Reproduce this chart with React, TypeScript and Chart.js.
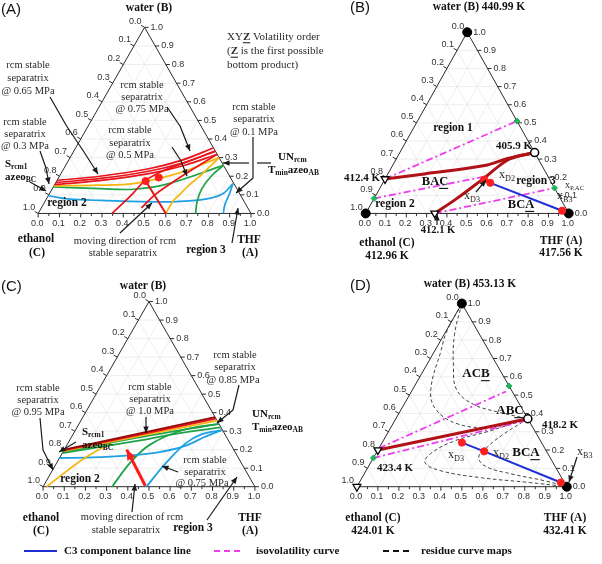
import React, { useEffect, useRef } from 'react';
import { Chart, registerables } from 'chart.js';

Chart.register(...registerables);

// ternary point: [THF (A) fraction, water (B) fraction]
type TP = [number, number];

const TICKS = [0, 0.1, 0.2, 0.3, 0.4, 0.5, 0.6, 0.7, 0.8, 0.9, 1.0];
const TICK_LABELS = ['0.0', '0.1', '0.2', '0.3', '0.4', '0.5', '0.6', '0.7', '0.8', '0.9', '1.0'];
const MINOR_TICKS = [0.05, 0.15, 0.25, 0.35, 0.45, 0.55, 0.65, 0.75, 0.85, 0.95];

// ---------- Panel (A) ----------
const A_RED_1: TP[] = [[0, 0.178], [0.19, 0.2], [0.4, 0.24], [0.53, 0.285], [0.648, 0.352]];
const A_RED_2: TP[] = [[0, 0.166], [0.2, 0.188], [0.41, 0.228], [0.545, 0.272], [0.665, 0.335]];
const A_RED_3: TP[] = [[0, 0.155], [0.2, 0.176], [0.42, 0.215], [0.56, 0.259], [0.682, 0.318]];
const A_YEL_1: TP[] = [[0, 0.148], [0.2, 0.152], [0.367, 0.16], [0.565, 0.222], [0.7, 0.3]];
const A_YEL_2: TP[] = [[0.6, 0], [0.6, 0.063], [0.613, 0.098], [0.632, 0.151], [0.657, 0.195], [0.7, 0.3]];
const A_GRN_1: TP[] = [[0, 0.142], [0.227, 0.133], [0.383, 0.13], [0.522, 0.156], [0.742, 0.258]];
const A_GRN_2: TP[] = [[0.74, 0], [0.715, 0.063], [0.703, 0.133], [0.714, 0.204], [0.742, 0.258]];
const A_BLU_1: TP[] = [[0, 0.095], [0.1, 0.078], [0.257, 0.07], [0.568, 0.062], [0.718, 0.072], [0.774, 0.084], [0.816, 0.107], [0.835, 0.16]];
const A_BLU_2: TP[] = [[0.87, 0], [0.854, 0.046], [0.846, 0.107], [0.835, 0.16]];
const A_RED_S1: TP[] = [[0.347, 0], [0.389, 0.1], [0.414, 0.174], [0.477, 0.232], [0.562, 0.277], [0.665, 0.335]];
const A_RED_S2: TP[] = [[0.47, 0.03], [0.498, 0.1], [0.55, 0.17], [0.61, 0.24], [0.682, 0.318]];
const A_RED_MOVE: TP[] = [[0.6, 0], [0.418, 0.174]];
const A_RED_DOTS: TP[] = [[0.418, 0.174], [0.47, 0.193]];

// ---------- Panel (B) ----------
const B_RED_1: TP[] = [[0, 0.19], [0.18, 0.218], [0.447, 0.263], [0.553, 0.305], [0.664, 0.336]];
const B_RED_2: TP[] = [[0.34, 0], [0.408, 0.083], [0.483, 0.191], [0.557, 0.299], [0.664, 0.336]];
const B_BLUE: TP[] = [[0.529, 0.169], [0.96, 0.015]];
const B_ISO_1: TP[] = [[0, 0.19], [0.49, 0.51]];
const B_ISO_2: TP[] = [[0, 0.083], [0.47, 0.2]];
const B_ISO_3: TP[] = [[0.34, 0], [0.86, 0.14]];
const B_STARS: TP[] = [[0.49, 0.51], [0, 0.083], [0.86, 0.14]];
const B_AZEO_OPEN: TP[] = [[0.664, 0.336]];
const B_AZEO_TRI: TP[] = [[0, 0.19], [0.34, 0]];
const B_PURE: TP[] = [[0, 1], [0, 0], [1, 0]];
const B_RED_DOTS: TP[] = [[0.49, 0.187], [0.529, 0.169], [0.96, 0.015]];

// ---------- Panel (C) ----------
const C_DRED: TP[] = [[0, 0.2], [0.624, 0.376]];
const C_RED: TP[] = [[0, 0.196], [0.632, 0.368]];
const C_YEL_1: TP[] = [[0, 0.192], [0.643, 0.357]];
const C_GRN_1: TP[] = [[0, 0.186], [0.3, 0.262], [0.66, 0.34]];
const C_GRN_2: TP[] = [[0, 0.182], [0.34, 0.252], [0.5, 0.29], [0.68, 0.32]];
const C_YEL_2: TP[] = [[0.017, 0], [0.064, 0.076], [0.115, 0.15], [0.21, 0.245]];
const C_BLU_1: TP[] = [[0, 0.155], [0.15, 0.158], [0.311, 0.168], [0.45, 0.185], [0.56, 0.22], [0.63, 0.27], [0.69, 0.305]];
const C_BLU_2: TP[] = [[0.488, 0], [0.5, 0.06], [0.516, 0.129], [0.556, 0.234], [0.61, 0.285], [0.69, 0.305]];
const C_GRN_3: TP[] = [[0.326, 0], [0.346, 0.129], [0.39, 0.226], [0.504, 0.305], [0.66, 0.34]];
const C_RED_MOVE: TP[] = [[0.48, 0.005], [0.295, 0.2]];

// ---------- Panel (D) ----------
const D_DRED: TP[] = [[0, 0.2], [0.629, 0.371]];
const D_ISO_1: TP[] = [[0, 0.21], [0.45, 0.52]];
const D_ISO_2: TP[] = [[0, 0.157], [0.62, 0.36]];
const D_RCM_1: TP[] = [[0, 1], [0.004, 0.85], [0.03, 0.74], [0.087, 0.53], [0.163, 0.424], [0.305, 0.344], [0.469, 0.326], [0.629, 0.371]];
const D_RCM_2: TP[] = [[0, 1], [0.05, 0.83], [0.13, 0.66], [0.21, 0.53], [0.33, 0.45], [0.46, 0.41], [0.629, 0.371]];
const D_RCM_3: TP[] = [[0.629, 0.371], [0.47, 0.3], [0.34, 0.25], [0.26, 0.18], [0.26, 0.13], [0.36, 0.086], [0.56, 0.05], [0.81, 0.023], [1, 0]];
const D_RCM_4: TP[] = [[0.629, 0.371], [0.55, 0.28], [0.51, 0.21], [0.5, 0.16], [0.56, 0.11], [0.71, 0.068], [0.88, 0.032], [1, 0]];
const D_BLUE: TP[] = [[0.38, 0.241], [0.51, 0.193], [0.96, 0.023]];
const D_STARS: TP[] = [[0.45, 0.55], [0, 0.157]];
const D_AZEO_OPEN: TP[] = [[0.629, 0.371]];
const D_AZEO_TRI: TP[] = [[0, 0.2], [0, 0]];
const D_PURE: TP[] = [[0, 1], [1, 0]];
const D_RED_DOTS: TP[] = [[0.38, 0.241], [0.51, 0.193], [0.96, 0.023]];

// ---------- layout & style ----------
const W = 602;
const H = 564;
const PANELS: Record<string, { x0: number; y0: number; w: number; h: number }> = {
  A: { x0: 33, y0: 212, w: 217, h: 190 },
  B: { x0: 367, y0: 212, w: 207, h: 185 },
  C: { x0: 38, y0: 491, w: 216, h: 189 },
  D: { x0: 358, y0: 491, w: 214, h: 187 },
};
const SERIF = "'Liberation Serif', 'DejaVu Serif', serif";
const SANS = "'Liberation Sans', Arial, sans-serif";
const RED = '#e8141c';
const DARK_RED = '#b01218';
const DEEP_RED = '#960a0a';
const YELLOW = '#f6b60e';
const GREEN = '#1fa34a';
const CYAN = '#1ea0e4';
const BLUE = '#1f2fd6';
const MAGENTA = '#ee3cee';
const STAR_GREEN = '#22b45a';
const DOT_RED = '#ff1e1e';
const ISO_DASH = [7, 3, 2, 3];
const RCM_DASH = [3.5, 2.5];

const toXY = (p: TP) => ({ x: p[0] + p[1] / 2, y: p[1] });

function curve(k: string, pts: TP[], color: string, width: number, extra: any = {}) {
  return {
    data: pts.map(toXY), xAxisID: 'x' + k, yAxisID: 'y' + k, showLine: true,
    borderColor: color, backgroundColor: color, borderWidth: width,
    pointRadius: 0, pointHoverRadius: 0, tension: 0.35, fill: false, order: 5, ...extra,
  };
}
function marks(k: string, pts: TP[], style: any) {
  return { data: pts.map(toXY), xAxisID: 'x' + k, yAxisID: 'y' + k, showLine: false, order: 1, ...style };
}
const BLACK_DOT = { pointStyle: 'circle', pointRadius: 4.5, pointBackgroundColor: '#000', pointBorderColor: '#000', pointBorderWidth: 1 };
const OPEN_DOT = { pointStyle: 'circle', pointRadius: 4, pointBackgroundColor: '#fff', pointBorderColor: '#000', pointBorderWidth: 1.5 };
const OPEN_TRI = { pointStyle: 'triangle', pointRotation: 180, pointRadius: 4.5, pointBackgroundColor: '#fff', pointBorderColor: '#000', pointBorderWidth: 1.3 };
const RED_DOT = { pointStyle: 'circle', pointRadius: 3.6, pointBackgroundColor: DOT_RED, pointBorderColor: DOT_RED, pointBorderWidth: 1 };
const GREEN_STAR = { pointStyle: 'rectRot', pointRadius: 3, pointBackgroundColor: STAR_GREEN, pointBorderColor: STAR_GREEN, pointBorderWidth: 1 };

type Seg = { t: string; sub?: boolean; u?: boolean; b?: boolean };
type Lbl = { s: string | Seg[]; x: number; y: number; al?: 'left' | 'center' | 'right'; sz?: number; bold?: boolean; fam?: string; col?: string };

const sub = (t: string): Seg => ({ t, sub: true });
const TXT = '#2a2a2a';

const LABELS: Lbl[] = [
  // A
  { s: '(A)', x: 1, y: 10, al: 'left', sz: 15, fam: SANS, col: '#111' },
  { s: 'water (B)', x: 149, y: 8, bold: true, sz: 11.5 },
  { s: 'ethanol', x: 36, y: 239, bold: true, sz: 11.5 },
  { s: '(C)', x: 37, y: 253, bold: true, sz: 11.5 },
  { s: 'THF', x: 249, y: 240, bold: true, sz: 11.5 },
  { s: '(A)', x: 250, y: 253, bold: true, sz: 11.5 },
  { s: 'region 3', x: 206, y: 250, bold: true, sz: 11.5 },
  { s: 'moving direction of rcm', x: 125, y: 241, col: TXT },
  { s: 'stable separatrix', x: 123, y: 253, col: TXT },
  { s: 'region 2', x: 67, y: 203, bold: true, sz: 11.5 },
  { s: 'rcm stable', x: 28, y: 65, col: TXT }, { s: 'separatrix', x: 28, y: 78, col: TXT }, { s: '@ 0.65 MPa', x: 28, y: 91, col: TXT },
  { s: 'rcm stable', x: 25, y: 122, col: TXT }, { s: 'separatrix', x: 25, y: 134, col: TXT }, { s: '@ 0.3 MPa', x: 25, y: 146, col: TXT },
  { s: [{ t: 'S' }, sub('rcm1')], x: 5, y: 164, al: 'left', bold: true, sz: 11 },
  { s: [{ t: 'azeo' }, sub('BC')], x: 5, y: 177, al: 'left', bold: true, sz: 11 },
  { s: 'rcm stable', x: 142, y: 85, col: TXT }, { s: 'separatrix', x: 142, y: 97, col: TXT }, { s: '@ 0.75 MPa', x: 142, y: 109, col: TXT },
  { s: 'rcm stable', x: 130, y: 130, col: TXT }, { s: 'separatrix', x: 130, y: 143, col: TXT }, { s: '@ 0.5 MPa', x: 130, y: 155, col: TXT },
  { s: 'rcm stable', x: 254, y: 107, col: TXT }, { s: 'separatrix', x: 254, y: 119, col: TXT }, { s: '@ 0.1 MPa', x: 254, y: 132, col: TXT },
  { s: [{ t: 'UN' }, sub('rcm')], x: 278, y: 157, al: 'left', bold: true, sz: 11 },
  { s: [{ t: 'T' }, sub('min'), { t: 'azeo' }, sub('AB')], x: 268, y: 170, al: 'left', bold: true, sz: 11 },
  { s: [{ t: 'XY' }, { t: 'Z', b: true, u: true }, { t: ' Volatility order' }], x: 227, y: 37, al: 'left', sz: 11, col: TXT },
  { s: [{ t: '(' }, { t: 'Z', b: true, u: true }, { t: ' is the first possible' }], x: 227, y: 51.5, al: 'left', sz: 11, col: TXT },
  { s: 'bottom product)', x: 227, y: 65, al: 'left', sz: 11, col: TXT },
  // B
  { s: '(B)', x: 350, y: 8, al: 'left', sz: 15, fam: SANS, col: '#111' },
  { s: 'water (B) 440.99 K', x: 479, y: 7, bold: true, sz: 11.5 },
  { s: 'region 1', x: 453, y: 128, bold: true, sz: 11.5 },
  { s: '405.9 K', x: 514, y: 146, bold: true, sz: 11 },
  { s: '412.4 K', x: 380, y: 178, al: 'right', bold: true, sz: 11 },
  { s: 'region 2', x: 395, y: 204, bold: true, sz: 11.5 },
  { s: [{ t: 'BA' }, { t: 'C', u: true }], x: 435, y: 182, bold: true, sz: 12.5 },
  { s: 'region 3', x: 536, y: 181, bold: true, sz: 11.5 },
  { s: [{ t: 'x' }, sub('D2')], x: 499, y: 175, al: 'left', sz: 12, col: TXT },
  { s: [{ t: 'x' }, sub('D3')], x: 464, y: 196, al: 'left', sz: 12, col: TXT },
  { s: [{ t: 'BC' }, { t: 'A', u: true }], x: 521, y: 205, bold: true, sz: 12.5 },
  { s: [{ t: 'x' }, sub('B3')], x: 557, y: 196, al: 'left', sz: 12, col: TXT },
  { s: [{ t: 'x' }, sub('P,AC')], x: 565, y: 185, al: 'left', sz: 10, col: TXT },
  { s: '412.1 K', x: 438, y: 230, bold: true, sz: 10.5 },
  { s: 'ethanol (C)', x: 387, y: 243, bold: true, sz: 11.5 },
  { s: '412.96 K', x: 387, y: 256, bold: true, sz: 11.5 },
  { s: 'THF (A)', x: 561, y: 241, bold: true, sz: 11.5 },
  { s: '417.56 K', x: 561, y: 253, bold: true, sz: 11.5 },
  // C
  { s: '(C)', x: 1, y: 287, al: 'left', sz: 15, fam: SANS, col: '#111' },
  { s: 'water (B)', x: 143, y: 286, bold: true, sz: 11.5 },
  { s: 'rcm stable', x: 38, y: 388, col: TXT }, { s: 'separatrix', x: 38, y: 400, col: TXT }, { s: '@ 0.95 MPa', x: 38, y: 412, col: TXT },
  { s: [{ t: 'S' }, sub('rcm1')], x: 82, y: 432, al: 'left', bold: true, sz: 11 },
  { s: [{ t: 'azeo' }, sub('BC')], x: 82, y: 445, al: 'left', bold: true, sz: 11 },
  { s: 'rcm stable', x: 150, y: 387, col: TXT }, { s: 'separatrix', x: 150, y: 399, col: TXT }, { s: '@ 1.0 MPa', x: 150, y: 411, col: TXT },
  { s: 'rcm stable', x: 235, y: 355, col: TXT }, { s: 'separatrix', x: 235, y: 367, col: TXT }, { s: '@ 0.85 MPa', x: 233, y: 380, col: TXT },
  { s: [{ t: 'UN' }, sub('rcm')], x: 252, y: 414, al: 'left', bold: true, sz: 11 },
  { s: [{ t: 'T' }, sub('min'), { t: 'azeo' }, sub('AB')], x: 252, y: 427, al: 'left', bold: true, sz: 11 },
  { s: 'region 2', x: 80, y: 479, bold: true, sz: 11.5 },
  { s: 'rcm stable', x: 205, y: 460, col: TXT }, { s: 'separatrix', x: 205, y: 472, col: TXT }, { s: '@ 0.75 MPa', x: 202, y: 483, col: TXT },
  { s: 'region 3', x: 193, y: 528, bold: true, sz: 11.5 },
  { s: 'moving direction of rcm', x: 132, y: 517, col: TXT },
  { s: 'stable separatrix', x: 126, y: 530, col: TXT },
  { s: 'ethanol', x: 41, y: 518, bold: true, sz: 11.5 },
  { s: '(C)', x: 41, y: 531, bold: true, sz: 11.5 },
  { s: 'THF', x: 250, y: 518, bold: true, sz: 11.5 },
  { s: '(A)', x: 250, y: 531, bold: true, sz: 11.5 },
  // D
  { s: '(D)', x: 350, y: 286, al: 'left', sz: 15, fam: SANS, col: '#111' },
  { s: 'water (B) 453.13 K', x: 470, y: 284, bold: true, sz: 11.5 },
  { s: [{ t: 'AC' }, { t: 'B', u: true }], x: 476, y: 374, bold: true, sz: 13 },
  { s: [{ t: 'AB' }, { t: 'C', u: true }], x: 510, y: 411, bold: true, sz: 13 },
  { s: '418.2 K', x: 542, y: 425, al: 'left', bold: true, sz: 11 },
  { s: '423.4 K', x: 377, y: 468, al: 'left', bold: true, sz: 11 },
  { s: [{ t: 'x' }, sub('D3')], x: 448, y: 455, al: 'left', sz: 12, col: TXT },
  { s: [{ t: 'x' }, sub('D2')], x: 493, y: 453, al: 'left', sz: 12, col: TXT },
  { s: [{ t: 'BC' }, { t: 'A', u: true }], x: 526, y: 453, bold: true, sz: 13 },
  { s: [{ t: 'x' }, sub('B3')], x: 577, y: 452, al: 'left', sz: 12, col: TXT },
  { s: 'ethanol (C)', x: 373, y: 518, bold: true, sz: 11.5 },
  { s: '424.01 K', x: 373, y: 531, bold: true, sz: 11.5 },
  { s: 'THF (A)', x: 565, y: 518, bold: true, sz: 11.5 },
  { s: '432.41 K', x: 565, y: 531, bold: true, sz: 11.5 },
];

// annotation arrows (page px), arrowhead at the last point
const ARROWS: { p: number[][]; head?: boolean }[] = [
  { p: [[50, 97], [66, 125], [84, 152], [98, 174]], head: true },
  { p: [[40, 151], [46, 168], [49, 184]], head: true },
  { p: [[30, 182], [46, 191]], head: true },
  { p: [[167, 107], [180, 126], [190, 151]], head: true },
  { p: [[172, 147], [181, 161], [187, 176]], head: true },
  { p: [[253, 137], [253, 178], [236, 193]], head: true },
  { p: [[249, 163], [223, 163]], head: true },
  { p: [[257, 163], [271, 163]] },
  { p: [[232, 243], [238, 208]], head: true },
  { p: [[120, 233], [152, 203]], head: true },
  { p: [[437, 225], [437, 214]], head: true },
  { p: [[476, 192], [486, 180]], head: true },
  { p: [[76, 442], [59, 452]], head: true },
  { p: [[40, 418], [43, 450], [53, 470]], head: true },
  { p: [[146, 417], [146, 433]], head: true },
  { p: [[239, 385], [233, 410], [217, 423]], head: true },
  { p: [[178, 472], [162, 466]], head: true },
  { p: [[207, 520], [237, 477]], head: true },
  { p: [[132, 512], [135, 484]], head: true },
  { p: [[577, 457], [569, 482]], head: true },
];

function tp(chart: any, k: string, a: number, b: number): [number, number] {
  const sx = chart.scales['x' + k];
  const sy = chart.scales['y' + k];
  return [sx.getPixelForValue(a + b / 2), sy.getPixelForValue(b)];
}

function seg(ctx: CanvasRenderingContext2D, p1: number[], p2: number[]) {
  ctx.beginPath();
  ctx.moveTo(p1[0], p1[1]);
  ctx.lineTo(p2[0], p2[1]);
  ctx.stroke();
}

function head(ctx: CanvasRenderingContext2D, x1: number, y1: number, x2: number, y2: number, col: string, len = 7, half = 3) {
  const ang = Math.atan2(y2 - y1, x2 - x1);
  const c = Math.cos(ang), s = Math.sin(ang);
  ctx.fillStyle = col;
  ctx.beginPath();
  ctx.moveTo(x2, y2);
  ctx.lineTo(x2 - len * c + half * s, y2 - len * s - half * c);
  ctx.lineTo(x2 - len * c - half * s, y2 - len * s + half * c);
  ctx.closePath();
  ctx.fill();
}

function drawLabel(ctx: CanvasRenderingContext2D, L: Lbl) {
  const segs: Seg[] = typeof L.s === 'string' ? [{ t: L.s }] : L.s;
  const sz = L.sz ?? 10.5;
  const fam = L.fam ?? SERIF;
  const fontOf = (s: Seg) => `${(s.b ?? L.bold) ? 'bold ' : ''}${s.sub ? sz * 0.68 : sz}px ${fam}`;
  let total = 0;
  const ws = segs.map((s) => {
    ctx.font = fontOf(s);
    const w = ctx.measureText(s.t).width;
    total += w;
    return w;
  });
  let x = L.al === 'left' ? L.x : L.al === 'right' ? L.x - total : L.x - total / 2;
  ctx.textBaseline = 'middle';
  ctx.textAlign = 'left';
  ctx.fillStyle = L.col ?? '#111';
  segs.forEach((s, i) => {
    ctx.font = fontOf(s);
    ctx.fillText(s.t, x, L.y + (s.sub ? sz * 0.32 : 0));
    if (s.u) ctx.fillRect(x, L.y + sz * 0.47, ws[i], 1.1);
    x += ws[i];
  });
}

const ternaryPlugin = {
  id: 'ternaryOverlay',
  beforeDatasetsDraw(chart: any) {
    const ctx: CanvasRenderingContext2D = chart.ctx;
    ctx.save();
    Object.keys(PANELS).forEach((k) => {
      const P = (a: number, b: number) => tp(chart, k, a, b);
      // grid
      ctx.strokeStyle = '#e2e2e2';
      ctx.lineWidth = 0.6;
      TICKS.slice(1, -1).forEach((v) => {
        seg(ctx, P(v, 0), P(v, 1 - v));
        seg(ctx, P(0, v), P(1 - v, v));
        seg(ctx, P(1 - v, 0), P(0, 1 - v));
      });
      // frame
      ctx.strokeStyle = '#2b2b2b';
      ctx.lineWidth = 1;
      ctx.beginPath();
      const v1 = P(0, 0), v2 = P(1, 0), v3 = P(0, 1);
      ctx.moveTo(v1[0], v1[1]);
      ctx.lineTo(v2[0], v2[1]);
      ctx.lineTo(v3[0], v3[1]);
      ctx.closePath();
      ctx.stroke();
      // ticks and labels
      ctx.font = `9px ${SANS}`;
      ctx.fillStyle = '#333';
      ctx.textBaseline = 'middle';
      TICKS.forEach((v, i) => {
        const pb = P(v, 0);
        seg(ctx, pb, [pb[0], pb[1] + 4]);
        ctx.textAlign = 'center';
        ctx.fillText(TICK_LABELS[i], pb[0] - 1, pb[1] + 10);
        const pr = P(1 - v, v);
        seg(ctx, pr, [pr[0] + 4, pr[1]]);
        ctx.textAlign = 'left';
        ctx.fillText(TICK_LABELS[i], pr[0] + 6, pr[1]);
        const pl = P(0, 1 - v);
        seg(ctx, pl, [pl[0] - 3.5, pl[1] - 2]);
        ctx.textAlign = 'right';
        ctx.fillText(TICK_LABELS[i], pl[0] - 3, pl[1] - 6);
      });
      MINOR_TICKS.forEach((v) => {
        const pb = P(v, 0);
        seg(ctx, pb, [pb[0], pb[1] + 2.5]);
      });
    });
    ctx.restore();
  },
  afterDatasetsDraw(chart: any) {
    const ctx: CanvasRenderingContext2D = chart.ctx;
    ctx.save();
    // arrowheads on data lines
    chart.data.datasets.forEach((ds: any, i: number) => {
      if (!ds.arrowHead) return;
      const pts = chart.getDatasetMeta(i).data;
      const a = pts[pts.length - 2], b = pts[pts.length - 1];
      head(ctx, a.x, a.y, b.x, b.y, ds.borderColor, 10, 4.5);
    });
    // annotation arrows
    ctx.strokeStyle = '#1a1a1a';
    ctx.lineWidth = 1.2;
    ctx.lineJoin = 'round';
    ARROWS.forEach((A) => {
      ctx.beginPath();
      A.p.forEach(([x, y], i) => (i ? ctx.lineTo(x, y) : ctx.moveTo(x, y)));
      ctx.stroke();
      if (A.head) {
        const n = A.p.length;
        head(ctx, A.p[n - 2][0], A.p[n - 2][1], A.p[n - 1][0], A.p[n - 1][1], '#1a1a1a', 6.5, 2.8);
      }
    });
    LABELS.forEach((L) => drawLabel(ctx, L));
    // legend
    const ly = 551;
    ctx.lineWidth = 2;
    ctx.strokeStyle = BLUE;
    ctx.setLineDash([]);
    seg(ctx, [24, ly], [57, ly]);
    ctx.strokeStyle = MAGENTA;
    ctx.setLineDash([6, 4]);
    seg(ctx, [214, ly], [244, ly]);
    ctx.strokeStyle = '#111';
    seg(ctx, [383, ly], [411, ly]);
    ctx.setLineDash([]);
    drawLabel(ctx, { s: 'C3 component balance line', x: 64, y: ly, al: 'left', bold: true, sz: 11 });
    drawLabel(ctx, { s: 'isovolatility curve', x: 256, y: ly, al: 'left', bold: true, sz: 11 });
    drawLabel(ctx, { s: 'residue curve maps', x: 421, y: ly, al: 'left', bold: true, sz: 11 });
    ctx.restore();
  },
};

function buildDatasets() {
  return [
    // markers (drawn on top)
    marks('A', A_RED_DOTS, RED_DOT),
    marks('B', B_RED_DOTS, RED_DOT),
    marks('B', B_PURE, BLACK_DOT),
    marks('B', B_AZEO_OPEN, OPEN_DOT),
    marks('B', B_AZEO_TRI, OPEN_TRI),
    marks('B', B_STARS, GREEN_STAR),
    marks('D', D_RED_DOTS, RED_DOT),
    marks('D', D_PURE, BLACK_DOT),
    marks('D', D_AZEO_OPEN, OPEN_DOT),
    marks('D', D_AZEO_TRI, OPEN_TRI),
    marks('D', D_STARS, GREEN_STAR),
    // panel A
    curve('A', A_RED_MOVE, RED, 2, { tension: 0 }),
    curve('A', A_RED_1, RED, 1.7),
    curve('A', A_RED_2, RED, 1.7),
    curve('A', A_RED_3, RED, 1.7),
    curve('A', A_RED_S1, RED, 1.7),
    curve('A', A_RED_S2, RED, 1.7),
    curve('A', A_YEL_1, YELLOW, 1.7),
    curve('A', A_YEL_2, YELLOW, 1.7),
    curve('A', A_GRN_1, GREEN, 1.7),
    curve('A', A_GRN_2, GREEN, 1.7),
    curve('A', A_BLU_1, CYAN, 1.7),
    curve('A', A_BLU_2, CYAN, 1.7),
    // panel B
    curve('B', B_BLUE, BLUE, 2, { tension: 0 }),
    curve('B', B_RED_1, DARK_RED, 3),
    curve('B', B_RED_2, DARK_RED, 3),
    curve('B', B_ISO_1, MAGENTA, 1.8, { borderDash: ISO_DASH, tension: 0 }),
    curve('B', B_ISO_2, MAGENTA, 1.8, { borderDash: ISO_DASH, tension: 0 }),
    curve('B', B_ISO_3, MAGENTA, 1.8, { borderDash: ISO_DASH, tension: 0 }),
    // panel C
    curve('C', C_RED_MOVE, '#ff1a1a', 3, { tension: 0, arrowHead: true }),
    curve('C', C_DRED, DEEP_RED, 1.8),
    curve('C', C_RED, RED, 1.8),
    curve('C', C_YEL_1, YELLOW, 1.8),
    curve('C', C_GRN_1, GREEN, 1.8),
    curve('C', C_GRN_2, GREEN, 1.8),
    curve('C', C_YEL_2, YELLOW, 1.8),
    curve('C', C_BLU_1, CYAN, 1.8),
    curve('C', C_BLU_2, CYAN, 1.8),
    curve('C', C_GRN_3, GREEN, 1.8),
    // panel D
    curve('D', D_BLUE, BLUE, 2, { tension: 0 }),
    curve('D', D_DRED, DARK_RED, 3, { tension: 0 }),
    curve('D', D_ISO_1, MAGENTA, 1.8, { borderDash: ISO_DASH, tension: 0 }),
    curve('D', D_ISO_2, MAGENTA, 1.8, { borderDash: ISO_DASH, tension: 0 }),
    curve('D', D_RCM_1, '#333', 0.9, { borderDash: RCM_DASH, tension: 0.4 }),
    curve('D', D_RCM_2, '#333', 0.9, { borderDash: RCM_DASH, tension: 0.4 }),
    curve('D', D_RCM_3, '#333', 0.9, { borderDash: RCM_DASH, tension: 0.4 }),
    curve('D', D_RCM_4, '#333', 0.9, { borderDash: RCM_DASH, tension: 0.4 }),
  ];
}

function buildScales() {
  const scales: any = {
    x: { type: 'linear', display: false },
    y: { type: 'linear', display: false },
  };
  Object.entries(PANELS).forEach(([k, g]) => {
    scales['x' + k] = { type: 'linear', display: false, min: -g.x0 / g.w, max: (W - g.x0) / g.w };
    scales['y' + k] = { type: 'linear', display: false, min: -(H - g.y0) / g.h, max: g.y0 / g.h };
  });
  return scales;
}

export default function App() {
  const ref = useRef<HTMLCanvasElement>(null);
  useEffect(() => {
    if (!ref.current) return;
    const chart = new Chart(ref.current, {
      type: 'scatter',
      data: { datasets: buildDatasets() as any },
      options: {
        responsive: false,
        animation: false,
        devicePixelRatio: 1,
        events: [],
        layout: { padding: 0 },
        scales: buildScales(),
        plugins: { legend: { display: false }, tooltip: { enabled: false } },
      },
      plugins: [ternaryPlugin as any],
    });
    return () => chart.destroy();
  }, []);
  return (
    <div style={{ position: 'absolute', left: 0, top: 0, width: W, height: H, background: '#fff' }}>
      <canvas ref={ref} width={W} height={H} style={{ width: W, height: H, display: 'block' }} />
    </div>
  );
}
